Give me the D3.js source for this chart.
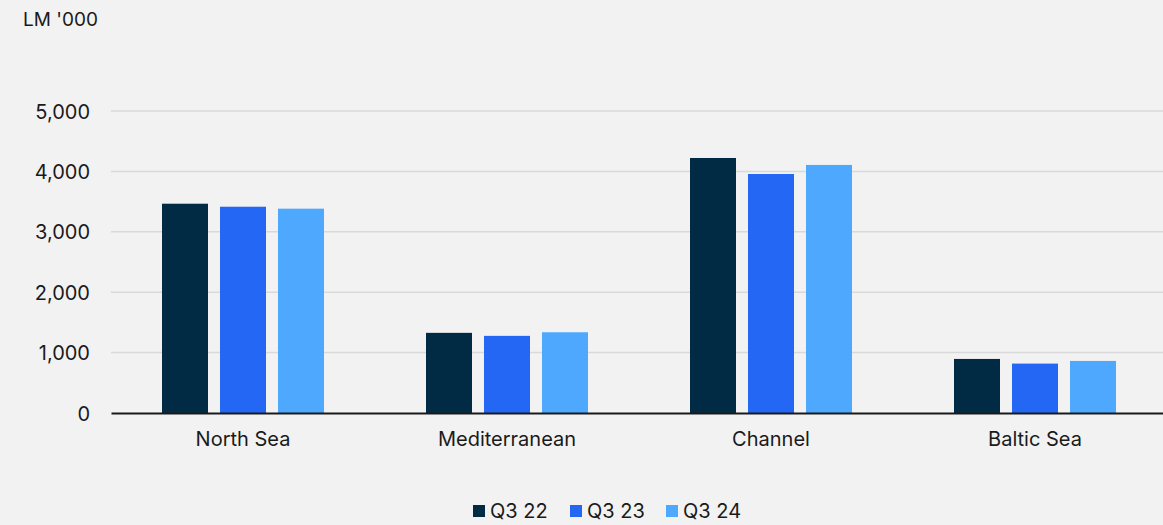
<!DOCTYPE html>
<html>
<head>
<meta charset="utf-8">
<script src="https://cdn.jsdelivr.net/npm/d3@7"></script>
<style>
  html, body { margin: 0; padding: 0; background: #f2f2f2; }
  svg { display: block; }
  text { font-family: Inter, "Noto Sans", sans-serif; fill: #1a1a1a; }
</style>
</head>
<body>
<svg id="chart" width="1163" height="525"></svg>
<script>
// Lane-metres ('000) by sea region, Q3 of each year
const regions = ["North Sea", "Mediterranean", "Channel", "Baltic Sea"];
const seriesNames = ["Q3 22", "Q3 23", "Q3 24"];
const q322 = [3465, 1327, 4222, 895];
const q323 = [3415, 1277, 3957, 818];
const q324 = [3383, 1337, 4107, 862];
const yTicks = [0, 1000, 2000, 3000, 4000, 5000];
const colors = ["#012b45", "#2367f4", "#4ea9fe"];

const seriesValues = [q322, q323, q324];

const svg = d3.select("#chart");
const W = 1163, H = 525;
const m = { left: 111, top: 111, bottom: 112 };

// Category bands run slightly past the right edge, as the plot area is clipped there
const x0 = d3.scaleBand().domain(regions).range([m.left, W + 4]).padding(0);
const y = d3.scaleLinear().domain([0, 5000]).range([H - m.bottom, m.top]);

// Inner positions: three 46px bars with 12px gaps, centred in each band
const barW = 46, gap = 12;
const groupW = barW * 3 + gap * 2;
const x1 = d3.scaleBand().domain(seriesNames)
  .range([0, groupW]).paddingInner(gap / (barW + gap)).paddingOuter(0);

// Gridlines
svg.append("g")
  .selectAll("line")
  .data(yTicks.filter(d => d > 0))
  .join("line")
  .attr("x1", m.left).attr("x2", W)
  .attr("y1", d => y(d)).attr("y2", d => y(d))
  .attr("stroke", "#d9d9d9").attr("stroke-width", 1.5);

// Y-axis tick labels
const yAxis = d3.axisLeft(y).tickValues(yTicks).tickFormat(d3.format(",")).tickSize(0).tickPadding(21);
svg.append("g")
  .attr("transform", `translate(${m.left},0)`)
  .call(yAxis)
  .call(g => g.select(".domain").remove())
  .call(g => g.selectAll("text")
    .style("font-family", "Inter, 'Noto Sans', sans-serif")
    .style("font-size", "20px").attr("fill", "#1a1a1a").attr("dy", "0.35em"));

// Bars
const groups = svg.append("g").selectAll("g")
  .data(regions)
  .join("g")
  .attr("transform", d => `translate(${x0(d) + (x0.bandwidth() - groupW) / 2},0)`);

groups.selectAll("rect")
  .data((d, i) => seriesNames.map((s, j) => ({ s, j, v: seriesValues[j][i] })))
  .join("rect")
  .attr("x", d => x1(d.s))
  .attr("width", x1.bandwidth())
  .attr("y", d => y(d.v))
  .attr("height", d => y(0) - y(d.v))
  .attr("fill", d => colors[d.j]);

// Baseline / x axis
const xAxis = d3.axisBottom(x0).tickSize(0).tickPadding(19);
svg.append("g")
  .attr("transform", `translate(0,${y(0)})`)
  .call(xAxis)
  .call(g => g.select(".domain").attr("stroke", "#1a1a1a").attr("stroke-width", 2))
  .call(g => g.selectAll("text")
    .style("font-family", "Inter, 'Noto Sans', sans-serif")
    .style("font-size", "20px").attr("fill", "#1a1a1a"));

// Unit label
svg.append("text")
  .attr("x", 23).attr("y", 26)
  .style("font-size", "19px")
  .text("LM '000");

// Legend
const legendX = [473, 570, 666];
const legend = svg.append("g").selectAll("g")
  .data(seriesNames)
  .join("g")
  .attr("transform", (d, i) => `translate(${legendX[i]},505)`);
legend.append("rect")
  .attr("width", 12).attr("height", 12)
  .attr("fill", (d, i) => colors[i]);
legend.append("text")
  .attr("x", 17).attr("y", 13)
  .style("font-size", "20px")
  .text(d => d);
</script>
</body>
</html>
